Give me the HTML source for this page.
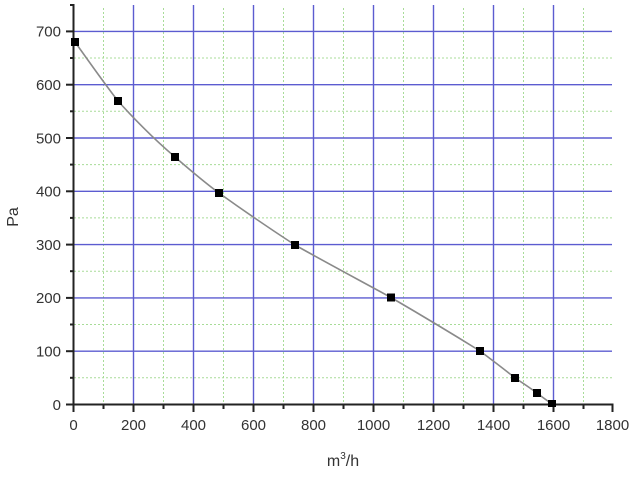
<!DOCTYPE html>
<html><head><meta charset="utf-8"><style>
html,body{margin:0;padding:0;background:#fff;}
svg{display:block;}
text{font-family:"Liberation Sans",Arial,sans-serif;fill:#333;}
</style></head><body>
<svg width="640" height="478" viewBox="0 0 640 478" xmlns="http://www.w3.org/2000/svg">
<rect width="640" height="478" fill="#fff"/>
<!-- minor grid (green dotted) -->
<g stroke="#a8dc98" stroke-width="1" stroke-dasharray="2,2">
<line x1="103.5" y1="8" x2="103.5" y2="404"/>
<line x1="163.5" y1="8" x2="163.5" y2="404"/>
<line x1="223.5" y1="8" x2="223.5" y2="404"/>
<line x1="283.5" y1="8" x2="283.5" y2="404"/>
<line x1="343.5" y1="8" x2="343.5" y2="404"/>
<line x1="403.5" y1="8" x2="403.5" y2="404"/>
<line x1="463.5" y1="8" x2="463.5" y2="404"/>
<line x1="523.5" y1="8" x2="523.5" y2="404"/>
<line x1="583.5" y1="8" x2="583.5" y2="404"/>
<line x1="74" y1="377.8" x2="612" y2="377.8"/>
<line x1="74" y1="324.5" x2="612" y2="324.5"/>
<line x1="74" y1="271.2" x2="612" y2="271.2"/>
<line x1="74" y1="217.9" x2="612" y2="217.9"/>
<line x1="74" y1="164.6" x2="612" y2="164.6"/>
<line x1="74" y1="111.3" x2="612" y2="111.3"/>
<line x1="74" y1="58" x2="612" y2="58"/>
</g>
<!-- major grid (blue) -->
<g stroke="#5c5cd0" stroke-width="1.4">
<line x1="133.5" y1="5" x2="133.5" y2="404"/>
<line x1="193.5" y1="5" x2="193.5" y2="404"/>
<line x1="253.5" y1="5" x2="253.5" y2="404"/>
<line x1="313.5" y1="5" x2="313.5" y2="404"/>
<line x1="373.5" y1="5" x2="373.5" y2="404"/>
<line x1="433.5" y1="5" x2="433.5" y2="404"/>
<line x1="493.5" y1="5" x2="493.5" y2="404"/>
<line x1="553.5" y1="5" x2="553.5" y2="404"/>
<line x1="74" y1="351.2" x2="612" y2="351.2"/>
<line x1="74" y1="297.9" x2="612" y2="297.9"/>
<line x1="74" y1="244.6" x2="612" y2="244.6"/>
<line x1="74" y1="191.3" x2="612" y2="191.3"/>
<line x1="74" y1="138" x2="612" y2="138"/>
<line x1="74" y1="84.7" x2="612" y2="84.7"/>
<line x1="74" y1="31.4" x2="612" y2="31.4"/>
</g>
<!-- axes -->
<g stroke="#222" stroke-width="2" fill="none">
<line x1="73.5" y1="4" x2="73.5" y2="405"/>
<line x1="72.5" y1="404.5" x2="613.5" y2="404.5"/>
<line x1="66" y1="404.5" x2="73" y2="404.5"/>
<line x1="66" y1="351.2" x2="73" y2="351.2"/>
<line x1="66" y1="297.9" x2="73" y2="297.9"/>
<line x1="66" y1="244.6" x2="73" y2="244.6"/>
<line x1="66" y1="191.3" x2="73" y2="191.3"/>
<line x1="66" y1="138" x2="73" y2="138"/>
<line x1="66" y1="84.7" x2="73" y2="84.7"/>
<line x1="66" y1="31.4" x2="73" y2="31.4"/>
<line x1="70" y1="377.8" x2="73" y2="377.8"/>
<line x1="70" y1="324.5" x2="73" y2="324.5"/>
<line x1="70" y1="271.2" x2="73" y2="271.2"/>
<line x1="70" y1="217.9" x2="73" y2="217.9"/>
<line x1="70" y1="164.6" x2="73" y2="164.6"/>
<line x1="70" y1="111.3" x2="73" y2="111.3"/>
<line x1="70" y1="58" x2="73" y2="58"/>
<line x1="70" y1="5" x2="73" y2="5"/>
<line x1="73.5" y1="405" x2="73.5" y2="412"/>
<line x1="133.5" y1="405" x2="133.5" y2="412"/>
<line x1="193.5" y1="405" x2="193.5" y2="412"/>
<line x1="253.5" y1="405" x2="253.5" y2="412"/>
<line x1="313.5" y1="405" x2="313.5" y2="412"/>
<line x1="373.5" y1="405" x2="373.5" y2="412"/>
<line x1="433.5" y1="405" x2="433.5" y2="412"/>
<line x1="493.5" y1="405" x2="493.5" y2="412"/>
<line x1="553.5" y1="405" x2="553.5" y2="412"/>
<line x1="612.5" y1="405" x2="612.5" y2="412"/>
<line x1="103.5" y1="405" x2="103.5" y2="409"/>
<line x1="163.5" y1="405" x2="163.5" y2="409"/>
<line x1="223.5" y1="405" x2="223.5" y2="409"/>
<line x1="283.5" y1="405" x2="283.5" y2="409"/>
<line x1="343.5" y1="405" x2="343.5" y2="409"/>
<line x1="403.5" y1="405" x2="403.5" y2="409"/>
<line x1="463.5" y1="405" x2="463.5" y2="409"/>
<line x1="523.5" y1="405" x2="523.5" y2="409"/>
<line x1="583.5" y1="405" x2="583.5" y2="409"/>
</g>
<!-- curve -->
<path fill="none" stroke="#8a8a8a" stroke-width="1.6" d="M75,42 C90,63 104,83 118,101 C137,122 155,140 175,157 C190,170 204,182 219,193 C244,211 269,228 295,245 C327,263 359,280 391,297.5 C421,315 451,333 480,351 C492,360 504,369 515,378 C523,383 530,388 537,393 C542,397 547,400.5 552,404"/>
<!-- markers -->
<g fill="#000">
<rect x="71" y="38" width="8" height="8"/>
<rect x="114" y="97" width="8" height="8"/>
<rect x="171" y="153" width="8" height="8"/>
<rect x="215" y="189" width="8" height="8"/>
<rect x="291" y="241" width="8" height="8"/>
<rect x="387" y="293.5" width="8" height="8"/>
<rect x="476" y="347" width="8" height="8"/>
<rect x="511" y="374" width="8" height="8"/>
<rect x="533" y="389" width="8" height="8"/>
<rect x="548" y="400" width="8" height="7"/>
</g>
<!-- y tick labels -->
<g font-size="15" text-anchor="end">
<text x="61" y="410">0</text>
<text x="61" y="356.5">100</text>
<text x="61" y="303.2">200</text>
<text x="61" y="249.9">300</text>
<text x="61" y="196.6">400</text>
<text x="61" y="143.3">500</text>
<text x="61" y="90">600</text>
<text x="61" y="36.7">700</text>
</g>
<!-- x tick labels -->
<g font-size="15" text-anchor="middle">
<text x="73.5" y="430">0</text>
<text x="133.5" y="430">200</text>
<text x="193.5" y="430">400</text>
<text x="253.5" y="430">600</text>
<text x="313.5" y="430">800</text>
<text x="373.5" y="430">1000</text>
<text x="433.5" y="430">1200</text>
<text x="493.5" y="430">1400</text>
<text x="553.5" y="430">1600</text>
<text x="612.5" y="430">1800</text>
</g>
<!-- axis titles -->
<text x="343" y="466" font-size="16" text-anchor="middle">m<tspan font-size="10" dy="-7">3</tspan><tspan dy="7">/h</tspan></text>
<text transform="translate(18,217) rotate(-90)" font-size="16" text-anchor="middle">Pa</text>
</svg>
</body></html>
